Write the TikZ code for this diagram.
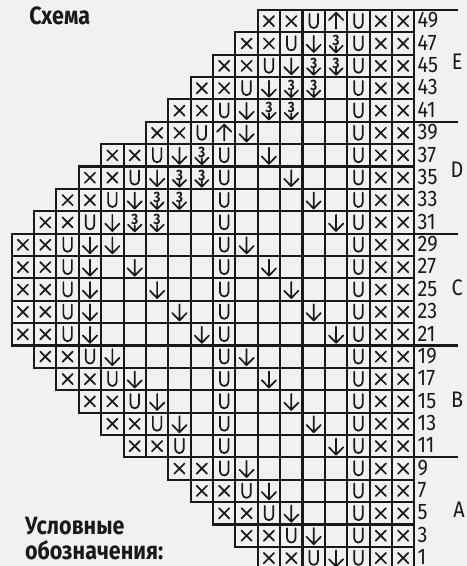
\documentclass[tikz,border=0pt]{standalone}
\usepackage{fontspec}
\newfontfamily\headfont[FakeStretch=0.86]{Fira Sans}
\newfontfamily\numfont[FakeStretch=0.88]{Fira Sans}
\definecolor{paper}{RGB}{241,241,239}

\newcommand{\symo}[2]{}
\newcommand{\symx}[2]{\draw[stitch] (#1-0.73,#2-0.73) -- (#1-0.27,#2-0.27) (#1-0.73,#2-0.27) -- (#1-0.27,#2-0.73);}
\newcommand{\symu}[2]{\draw[stitch] (#1-0.69,#2-0.17) -- (#1-0.69,#2-0.62) arc[start angle=180,end angle=360,radius=0.19] -- (#1-0.31,#2-0.17);}
\newcommand{\symd}[2]{\draw[stitch] (#1-0.5,#2-0.16) -- (#1-0.5,#2-0.88) (#1-0.82,#2-0.55) -- (#1-0.5,#2-0.88) -- (#1-0.18,#2-0.55);}
\newcommand{\syma}[2]{\draw[stitch] (#1-0.5,#2-0.84) -- (#1-0.5,#2-0.12) (#1-0.82,#2-0.45) -- (#1-0.5,#2-0.12) -- (#1-0.18,#2-0.45);}
\newcommand{\symt}[2]{\draw[stitch] (#1-0.5,#2-0.62) -- (#1-0.5,#2-0.9) (#1-0.8,#2-0.6) -- (#1-0.5,#2-0.9) -- (#1-0.2,#2-0.6);
  \node[three] (t-#1-#2) at (#1-0.5,#2-0.38) {3};}

\begin{document}
\begin{tikzpicture}[x=22.37pt,y=22.37pt,
    grid/.style={line width=2.1pt,black!90},
    stitch/.style={line width=1.7pt,black!90,line cap=round,line join=round},
    three/.style={font=\numfont\bfseries\fontsize{15}{15}\selectfont,inner sep=0pt,text=black!90},
    num/.style={font=\numfont\fontsize{22.5}{22.5}\selectfont,inner sep=0pt,text=black!90},
    head/.style={font=\headfont\bfseries\fontsize{25}{25}\selectfont,inner sep=0pt,text=black!90}]
  \clip (-0.523,0.143) rectangle (20.353,25.445);
  \fill[paper] (-0.523,0.143) rectangle (20.353,25.445);

  \foreach \num/\first/\cells in {
      49/12/{x,x,u,a,u,x,x},
      47/11/{x,x,u,d,t,u,x,x},
      45/10/{x,x,u,d,t,t,u,x,x},
      43/9/{x,x,u,d,t,t,o,u,x,x},
      41/8/{x,x,u,d,t,t,o,o,u,x,x},
      39/7/{x,x,u,a,d,o,o,o,o,u,x,x},
      37/5/{x,x,u,d,t,u,o,d,o,o,o,u,x,x},
      35/4/{x,x,u,d,t,t,u,o,o,d,o,o,u,x,x},
      33/3/{x,x,u,d,t,t,o,u,o,o,o,d,o,u,x,x},
      31/2/{x,x,u,d,t,t,o,o,u,o,o,o,o,d,u,x,x},
      29/1/{x,x,u,d,d,o,o,o,o,u,d,o,o,o,o,u,x,x},
      27/1/{x,x,u,d,o,d,o,o,o,u,o,d,o,o,o,u,x,x},
      25/1/{x,x,u,d,o,o,d,o,o,u,o,o,d,o,o,u,x,x},
      23/1/{x,x,u,d,o,o,o,d,o,u,o,o,o,d,o,u,x,x},
      21/1/{x,x,u,d,o,o,o,o,d,u,o,o,o,o,d,u,x,x},
      19/2/{x,x,u,d,o,o,o,o,u,d,o,o,o,o,u,x,x},
      17/3/{x,x,u,d,o,o,o,u,o,d,o,o,o,u,x,x},
      15/4/{x,x,u,d,o,o,u,o,o,d,o,o,u,x,x},
      13/5/{x,x,u,d,o,u,o,o,o,d,o,u,x,x},
      11/6/{x,x,u,o,u,o,o,o,o,d,u,x,x},
      9/8/{x,x,u,d,o,o,o,o,u,x,x},
      7/9/{x,x,u,d,o,o,o,u,x,x},
      5/10/{x,x,u,d,o,o,u,x,x},
      3/11/{x,x,u,d,o,u,x,x},
      1/12/{x,x,u,d,u,x,x}} {
    \pgfmathtruncatemacro{\k}{(\num+1)/2}
    \foreach \s [count=\c from \first] in \cells {
      \draw[grid] (\c-1,\k-1) rectangle (\c,\k);
      \csname sym\s\endcsname{\c}{\k}
    }
    \node[num,anchor=base west] (n\num) at (18.14,\k-0.8) {\num};
  }

  % section marks
  \foreach \y in {5,10,...,25}
    \draw[grid] (18,\y) -- (19.93,\y);
  \node[num] (secE) at (19.91,22.67) {E};
  \node[num] (secD) at (19.91,17.85) {D};
  \node[num] (secC) at (19.91,12.57) {C};
  \node[num] (secB) at (19.91,7.56) {B};
  \node[num] (secA) at (20.0,2.65) {A};

  \node[head,anchor=base west] (title) at (0.78,24.37) {Схема};
  \node[head,anchor=base west] (legend1) at (0.59,1.56) {Условные};
  \node[head,anchor=base west] (legend2) at (0.59,0.45) {обозначения:};
\end{tikzpicture}
\end{document}
